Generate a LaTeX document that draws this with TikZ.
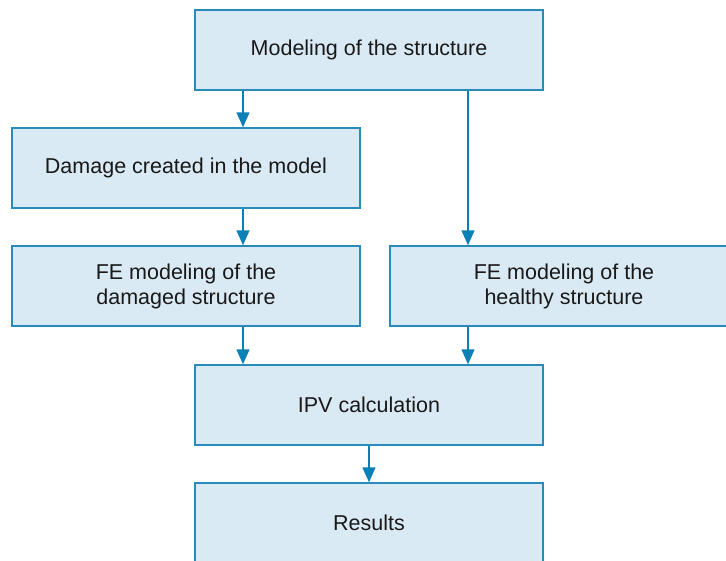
\documentclass[tikz,border=0pt]{standalone}
\usepackage{fontspec}
\setmainfont{Liberation Sans}
\usetikzlibrary{arrows.meta}
\definecolor{boxfill}{HTML}{DAEAF4}
\definecolor{boxline}{HTML}{2A8BBA}
\definecolor{arrcol}{HTML}{0A80B6}
\tikzset{
  flowbox/.style={draw=boxline, fill=boxfill, line width=1.4pt, minimum width=348pt, minimum height=80pt, inner sep=0pt, align=center, font=\fontsize{21.5}{25}\selectfont, text=black!90},
  arr/.style={draw=arrcol, line width=1.4pt, -{Triangle[width=13pt,length=15pt]}}
}
\begin{document}
\begin{tikzpicture}[x=1pt,y=-1pt]
\useasboundingbox (0,0) rectangle (726,560);
\clip (0,0) rectangle (726,560);
\node[flowbox] (top) at (369,50) {\raisebox{-2pt}{Modeling of the structure}};
\node[flowbox] (damage) at (186,168) {\raisebox{-2pt}{Damage created in the model}};
\node[flowbox] (fed) at (186,286) {FE modeling of the\\damaged structure};
\node[flowbox] (feh) at (564,286) {FE modeling of the\\healthy structure};
\node[flowbox] (ipv) at (369,405) {\raisebox{-2pt}{IPV calculation}};
\node[flowbox] (res) at (369,523) {\raisebox{-2pt}{Results}};
\coordinate (xa) at (243,0);
\coordinate (xb) at (468,0);
\draw[arr] (top.south -| xa) -- (damage.north -| xa);
\draw[arr] (top.south -| xb) -- (feh.north -| xb);
\draw[arr] (damage.south -| xa) -- (fed.north -| xa);
\draw[arr] (fed.south -| xa) -- (ipv.north -| xa);
\draw[arr] (feh.south -| xb) -- (ipv.north -| xb);
\draw[arr] (ipv.south) -- (res.north);
\end{tikzpicture}
\end{document}
